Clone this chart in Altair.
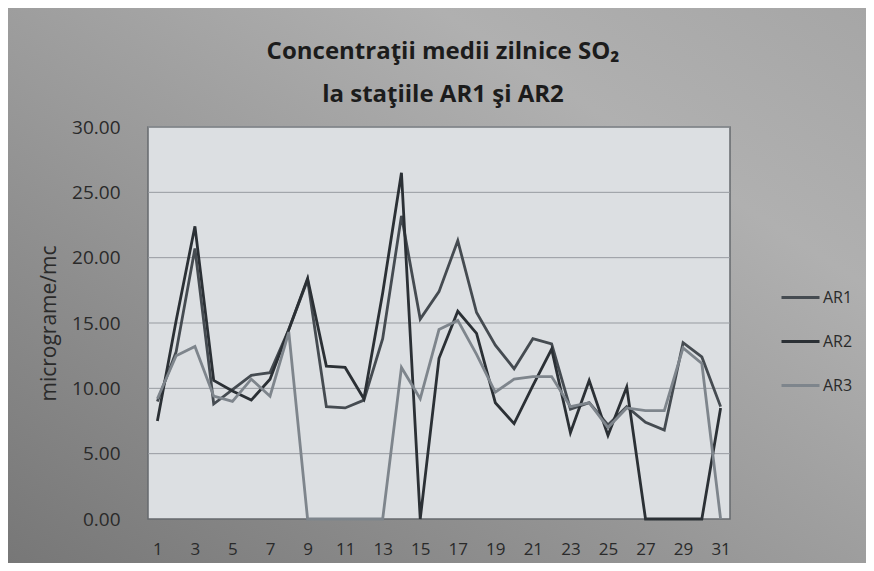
import altair as alt
import pandas as pd

days = [1, 2, 3, 4, 5, 6, 7, 8, 9, 10, 11, 12, 13, 14, 15, 16,
        17, 18, 19, 20, 21, 22, 23, 24, 25, 26, 27, 28, 29, 30, 31]

ar1 = [9.0, 12.8, 20.7, 8.8, 9.9, 11.0, 11.2, 14.5, 18.3, 8.6, 8.5, 9.1, 13.8, 23.2, 15.3, 17.4,
       21.3, 15.8, 13.3, 11.5, 13.8, 13.4, 8.4, 8.9, 7.2, 8.6, 7.4, 6.8, 13.5, 12.4, 8.6]
ar2 = [7.5, 15.2, 22.4, 10.6, 9.8, 9.1, 10.7, 14.5, 18.4, 11.7, 11.6, 9.2, 17.3, 26.5, 0.0, 12.3,
       15.9, 14.2, 8.9, 7.3, 10.2, 13.0, 6.6, 10.6, 6.4, 10.1, 0.0, 0.0, 0.0, 0.0, 8.5]
ar3 = [9.2, 12.5, 13.2, 9.4, 9.0, 10.7, 9.4, 14.3, 0.0, 0.0, 0.0, 0.0, 0.0, 11.6, 9.2, 14.5,
       15.2, 12.6, 9.7, 10.7, 10.9, 10.9, 8.6, 8.9, 7.0, 8.5, 8.3, 8.3, 13.1, 11.9, 0.0]

series_names = ["AR1", "AR2", "AR3"]
series_colors = ["#454b51", "#2b3035", "#7e858c"]
y_ticks = [0, 5, 10, 15, 20, 25, 30]
x_ticks = [1, 3, 5, 7, 9, 11, 13, 15, 17, 19, 21, 23, 25, 27, 29, 31]
title_lines = ["Concentraţii medii zilnice SO₂", "la staţiile AR1 şi AR2"]

rows = []
for name, vals in zip(series_names, [ar1, ar2, ar3]):
    for d, v in zip(days, vals):
        rows.append({"zi": d, "statie": name, "valoare": v})
df = pd.DataFrame(rows)
grid_df = pd.DataFrame({"valoare": y_ticks[1:]})
one = pd.DataFrame({"k": [0]})

FONT = "Open Sans"
W, H = 582, 392
PAD = {"left": 140, "top": 119, "right": 136, "bottom": 44}

y_scale = alt.Scale(domain=[0, 30], nice=False, zero=True)
y_axis = alt.Axis(values=y_ticks, format=".2f", title="micrograme/mc",
                  titleFont=FONT, titleFontSize=21, titleFontWeight="normal",
                  titleColor="#2a2a2a", titlePadding=12,
                  labelFont=FONT, labelFontSize=19, labelColor="#2a2a2a",
                  labelPadding=28, ticks=False, domain=False,
                  grid=False, zindex=1)

outer_bg = alt.Chart(one).mark_rect(
    color=alt.Gradient(
        gradient="linear", x1=0, y1=1, x2=1, y2=0,
        stops=[alt.GradientStop(color="#777777", offset=0),
               alt.GradientStop(color="#9a9a9a", offset=0.45),
               alt.GradientStop(color="#b0b0b0", offset=0.75),
               alt.GradientStop(color="#a6a6a6", offset=1)])
).encode(
    x=alt.value(-PAD["left"]), x2=alt.value(W + PAD["right"]),
    y=alt.value(-PAD["top"]), y2=alt.value(H + PAD["bottom"]),
)

plot_bg = alt.Chart(one).mark_rect(
    fill="#dcdfe2", stroke="#666a6e", strokeWidth=1.5
).encode(
    x=alt.value(0), x2=alt.value(W), y=alt.value(0), y2=alt.value(H),
)

grid = alt.Chart(grid_df).mark_rule(color="#979ba0", strokeWidth=1).encode(
    y=alt.Y("valoare:Q", scale=y_scale, axis=y_axis),
    x=alt.value(0), x2=alt.value(W),
)

lines = alt.Chart(df).mark_line(strokeWidth=2.8).encode(
    x=alt.X("zi:O",
            scale=alt.Scale(type="point", padding=0.5),
            axis=alt.Axis(values=x_ticks, labelAngle=0, title=None, ticks=False,
                          domain=False, grid=False, labelFontSize=17, labelFont=FONT,
                          labelColor="#2a2a2a", labelPadding=22, zindex=1)),
    y=alt.Y("valoare:Q", scale=y_scale, axis=y_axis),
    color=alt.Color("statie:N",
                    scale=alt.Scale(domain=series_names, range=series_colors),
                    legend=alt.Legend(title=None, orient="none", legendX=632, legendY=150,
                                      symbolType="stroke", symbolSize=1444,
                                      symbolStrokeWidth=2.8, labelFont=FONT,
                                      labelFontSize=16, labelColor="#2a2a2a",
                                      rowPadding=15, labelOffset=2, zindex=1)),
)

title1 = alt.Chart(one).mark_text(
    text=title_lines[0], font=FONT, fontSize=24, fontWeight="bold",
    color="#1c1c1c", align="center", baseline="middle"
).encode(x=alt.value(W / 2 + 4), y=alt.value(-75))

title2 = alt.Chart(one).mark_text(
    text=title_lines[1], font=FONT, fontSize=24, fontWeight="bold",
    color="#1c1c1c", align="center", baseline="middle"
).encode(x=alt.value(W / 2 + 4), y=alt.value(-32))

chart = alt.layer(outer_bg, plot_bg, grid, lines, title1, title2).properties(
    width=W,
    height=H,
    padding=PAD,
    autosize=alt.AutoSizeParams(type="none"),
).configure(
    background="#969696",
).configure_view(
    stroke=None,
)

chart.save("out.html", embed_options={"renderer": "svg", "actions": False})
